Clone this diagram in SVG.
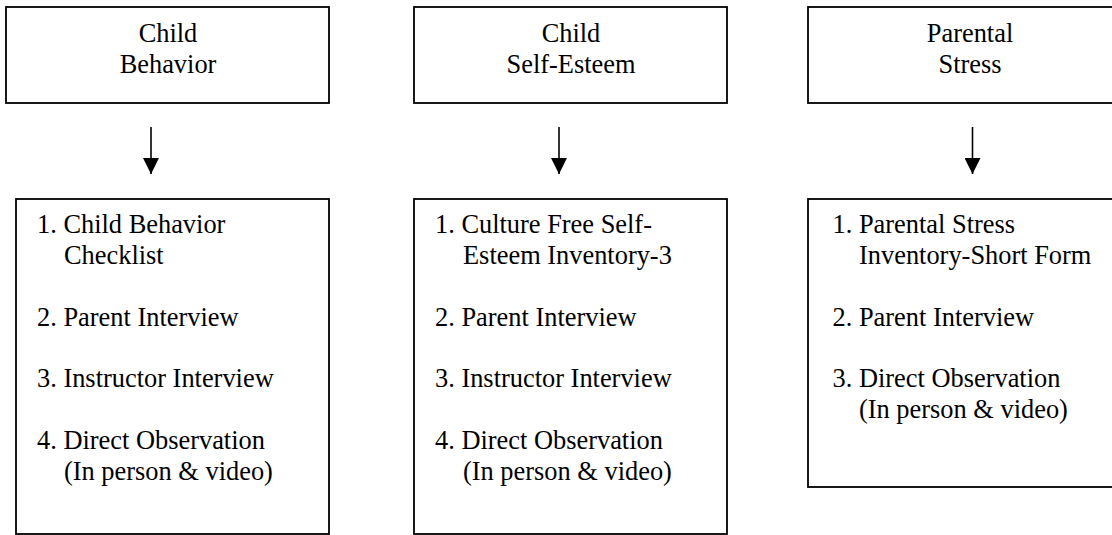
<svg xmlns="http://www.w3.org/2000/svg" width="1112" height="535" viewBox="0 0 1112 535">
<style>
.box{fill:#fff;stroke:#000;stroke-width:1.8}
.t{font-family:"Liberation Serif","Times New Roman",serif;font-size:26.4px;fill:#000}
.c{text-anchor:middle}
.conn{stroke:#000;stroke-width:1.6;fill:none}
</style>
<defs>
<marker id="ah" markerUnits="userSpaceOnUse" markerWidth="16" markerHeight="16" viewBox="0 0 16 16" refX="16" refY="8" orient="auto">
<path d="M0,0 L16,8 L0,16 Z" fill="#000"/>
</marker>
</defs>
<rect width="1112" height="535" fill="#fff"/>
<g id="connectors">
<line class="conn" x1="151" y1="127" x2="151" y2="174" marker-end="url(#ah)"/>
<line class="conn" x1="559" y1="127" x2="559" y2="174" marker-end="url(#ah)"/>
<line class="conn" x1="972.5" y1="127" x2="972.5" y2="174" marker-end="url(#ah)"/>
</g>
<g id="child-behavior">
<rect class="box" x="6" y="7" width="323" height="96"/>
<text class="t c" x="168" y="42">Child</text>
<text class="t c" x="168" y="73">Behavior</text>
</g>
<g id="child-behavior-measures">
<rect class="box" x="16" y="199" width="313" height="335"/>
<text class="t"><tspan x="37" y="233">1. Child Behavior</tspan><tspan x="64" y="264">Checklist</tspan><tspan x="37" y="325.5">2. Parent Interview</tspan><tspan x="37" y="387">3. Instructor Interview</tspan><tspan x="37" y="448.5">4. Direct Observation</tspan><tspan x="64" y="479.5">(In person &amp; video)</tspan></text>
</g>
<g id="child-self-esteem">
<rect class="box" x="414" y="7" width="313" height="96"/>
<text class="t c" x="571" y="42">Child</text>
<text class="t c" x="571" y="73">Self-Esteem</text>
</g>
<g id="child-self-esteem-measures">
<rect class="box" x="414" y="199" width="313" height="335"/>
<text class="t"><tspan x="435" y="233">1. Culture Free Self-</tspan><tspan x="463" y="264">Esteem Inventory-3</tspan><tspan x="435" y="325.5">2. Parent Interview</tspan><tspan x="435" y="387">3. Instructor Interview</tspan><tspan x="435" y="448.5">4. Direct Observation</tspan><tspan x="463" y="479.5">(In person &amp; video)</tspan></text>
</g>
<g id="parental-stress">
<rect class="box" x="808" y="7" width="324" height="96"/>
<text class="t c" x="970" y="42">Parental</text>
<text class="t c" x="970" y="73">Stress</text>
</g>
<g id="parental-stress-measures">
<rect class="box" x="808" y="199" width="324" height="288"/>
<text class="t"><tspan x="832.5" y="233">1. Parental Stress</tspan><tspan x="859" y="264">Inventory-Short Form</tspan><tspan x="832.5" y="325.5">2. Parent Interview</tspan><tspan x="832.5" y="387">3. Direct Observation</tspan><tspan x="859" y="418">(In person &amp; video)</tspan></text>
</g>
</svg>
